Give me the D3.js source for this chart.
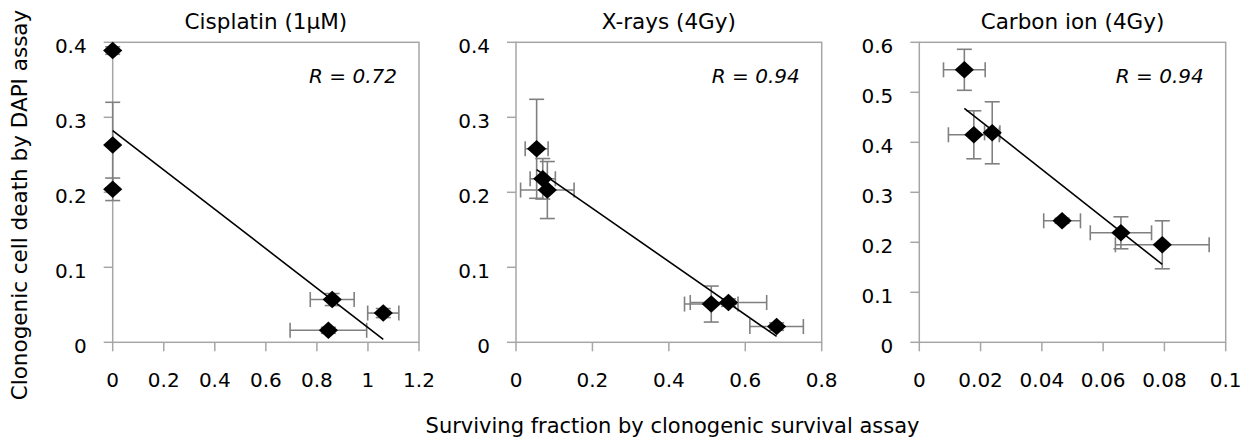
<!DOCTYPE html>
<html>
<head>
<meta charset="utf-8">
<script src="https://cdn.jsdelivr.net/npm/d3@7"></script>
<style>
  body { margin: 0; background: #fff; }
  svg { display: block; }
</style>
</head>
<body>
<div id="chart"></div>
<script>
// panel titles and correlation labels
var titles = ["Cisplatin (1\u00b5M)", "X-rays (4Gy)", "Carbon ion (4Gy)"];
var rLabels = ["R = 0.72", "R = 0.94", "R = 0.94"];

// surviving fraction (x) with error, cell death by DAPI (y) with error
var cisX    = [0, 0, 0, 0.860, 1.060, 0.845];
var cisXErr = [0, 0, 0, 0.086, 0.061, 0.150];
var cisY    = [0.389, 0.263, 0.204, 0.057, 0.039, 0.016];
var cisYErr = [0.005, 0.057, 0.015, 0.008, 0.006, 0.004];

var xrX    = [0.054, 0.070, 0.082, 0.511, 0.556, 0.682];
var xrXErr = [0.030, 0.033, 0.070, 0.070, 0.100, 0.070];
var xrY    = [0.258, 0.218, 0.203, 0.051, 0.053, 0.021];
var xrYErr = [0.066, 0.027, 0.038, 0.024, 0.005, 0.005];

var cX    = [0.0147, 0.0178, 0.0238, 0.0466, 0.0658, 0.0793];
var cXErr = [0.0068, 0.0083, 0.0025, 0.0060, 0.0100, 0.0153];
var cY    = [0.545, 0.415, 0.419, 0.243, 0.219, 0.195];
var cYErr = [0.041, 0.048, 0.062, 0.005, 0.032, 0.048];

// axis ticks
var xTicks = [[0, 0.2, 0.4, 0.6, 0.8, 1, 1.2], [0, 0.2, 0.4, 0.6, 0.8], [0, 0.02, 0.04, 0.06, 0.08, 0.1]];
var yTicks = [[0, 0.1, 0.2, 0.3, 0.4], [0, 0.1, 0.2, 0.3, 0.4], [0, 0.1, 0.2, 0.3, 0.4, 0.5, 0.6]];

var xLabel = "Surviving fraction by clonogenic survival assay";
var yLabel = "Clonogenic cell death by DAPI assay";

var width = 1247, height = 441;
var font = "'DejaVu Sans', sans-serif";
var gridColour = "#a6a6a6";
var errColour = "#808080";

var seriesX = [cisX, xrX, cX], seriesXErr = [cisXErr, xrXErr, cXErr];
var seriesY = [cisY, xrY, cY], seriesYErr = [cisYErr, xrYErr, cYErr];

// plot area edges of each panel
var panelLeft = [112.7, 516, 919.3];
var panelRight = [419, 821.7, 1225.7];
var plotTop = 42.3, plotBottom = 342.3;

var svg = d3.select("#chart").append("svg")
  .attr("width", width)
  .attr("height", height)
  .style("font-family", font);

function fmt(v) { return String(+v.toFixed(3)); }

titles.forEach(function(title, i) {
  var xs = xTicks[i], ys = yTicks[i];
  var x = d3.scaleLinear().domain([0, xs[xs.length - 1]]).range([panelLeft[i], panelRight[i]]);
  var y = d3.scaleLinear().domain([0, ys[ys.length - 1]]).range([plotBottom, plotTop]);

  var g = svg.append("g").attr("class", "panel");

  // plot frame
  g.append("rect")
    .attr("x", x.range()[0]).attr("y", plotTop)
    .attr("width", x.range()[1] - x.range()[0]).attr("height", plotBottom - plotTop)
    .attr("fill", "none").attr("stroke", gridColour).attr("stroke-width", 1.5);

  // x ticks
  g.selectAll(".xt").data(xs).enter().append("line")
    .attr("x1", function(d) { return x(d); }).attr("x2", function(d) { return x(d); })
    .attr("y1", plotBottom).attr("y2", plotBottom + 9)
    .attr("stroke", gridColour).attr("stroke-width", 1.5);
  g.selectAll(".xl").data(xs).enter().append("text")
    .attr("x", function(d) { return x(d); })
    .attr("y", 387)
    .attr("text-anchor", "middle")
    .style("font-size", "20px").style("fill", "#000")
    .text(fmt);

  // y ticks
  g.selectAll(".yt").data(ys).enter().append("line")
    .attr("x1", x.range()[0] - 9).attr("x2", x.range()[0])
    .attr("y1", function(d) { return y(d); }).attr("y2", function(d) { return y(d); })
    .attr("stroke", gridColour).attr("stroke-width", 1.5);
  g.selectAll(".yl").data(ys).enter().append("text")
    .attr("x", x.range()[0] - 26)
    .attr("y", function(d) { return y(d) + 11; })
    .attr("text-anchor", "end")
    .style("font-size", "20px").style("fill", "#000")
    .text(fmt);

  // title
  g.append("text")
    .attr("x", (x.range()[0] + x.range()[1]) / 2)
    .attr("y", 29.3)
    .attr("text-anchor", "middle")
    .style("font-size", "21.5px")
    .text(title);

  // R label
  g.append("text")
    .attr("x", x.range()[1] - 22)
    .attr("y", 82.7)
    .attr("text-anchor", "end")
    .style("font-size", "20px")
    .style("font-style", "italic")
    .text(rLabels[i]);

  var pts = seriesX[i].map(function(v, j) {
    return {x: v, y: seriesY[i][j], ex: seriesXErr[i][j], ey: seriesYErr[i][j]};
  });

  // error bars
  var cap = 7.5;
  var eb = g.append("g").attr("stroke", errColour).attr("stroke-width", 1.6);
  pts.forEach(function(d) {
    if (d.ey > 0) {
      eb.append("line").attr("x1", x(d.x)).attr("x2", x(d.x)).attr("y1", y(d.y - d.ey)).attr("y2", y(d.y + d.ey));
      eb.append("line").attr("x1", x(d.x) - cap).attr("x2", x(d.x) + cap).attr("y1", y(d.y + d.ey)).attr("y2", y(d.y + d.ey));
      eb.append("line").attr("x1", x(d.x) - cap).attr("x2", x(d.x) + cap).attr("y1", y(d.y - d.ey)).attr("y2", y(d.y - d.ey));
    }
    if (d.ex > 0) {
      eb.append("line").attr("y1", y(d.y)).attr("y2", y(d.y)).attr("x1", x(d.x - d.ex)).attr("x2", x(d.x + d.ex));
      eb.append("line").attr("y1", y(d.y) - cap).attr("y2", y(d.y) + cap).attr("x1", x(d.x - d.ex)).attr("x2", x(d.x - d.ex));
      eb.append("line").attr("y1", y(d.y) - cap).attr("y2", y(d.y) + cap).attr("x1", x(d.x + d.ex)).attr("x2", x(d.x + d.ex));
    }
  });

  // diamond markers
  g.selectAll(".pt").data(pts).enter().append("path")
    .attr("d", "M0,-8.7L9.6,0L0,8.7L-9.6,0Z")
    .attr("transform", function(d) { return "translate(" + x(d.x) + "," + y(d.y) + ")"; })
    .attr("fill", "#000");

  // linear trendline over the data range (least squares)
  var mx = d3.mean(pts, function(d) { return d.x; });
  var my = d3.mean(pts, function(d) { return d.y; });
  var sxy = d3.sum(pts, function(d) { return (d.x - mx) * (d.y - my); });
  var sxx = d3.sum(pts, function(d) { return (d.x - mx) * (d.x - mx); });
  var slope = sxy / sxx, icpt = my - slope * mx;
  var ext = d3.extent(pts, function(d) { return d.x; });
  g.append("line")
    .attr("x1", x(ext[0])).attr("y1", y(icpt + slope * ext[0]))
    .attr("x2", x(ext[1])).attr("y2", y(icpt + slope * ext[1]))
    .attr("stroke", "#000").attr("stroke-width", 1.6);
});

// axis titles
svg.append("text")
  .attr("x", 672.5)
  .attr("y", 433)
  .attr("text-anchor", "middle")
  .style("font-size", "21px")
  .text(xLabel);

svg.append("text")
  .attr("transform", "translate(27,205) rotate(-90)")
  .attr("text-anchor", "middle")
  .style("font-size", "21.5px")
  .text(yLabel);
</script>
</body>
</html>
